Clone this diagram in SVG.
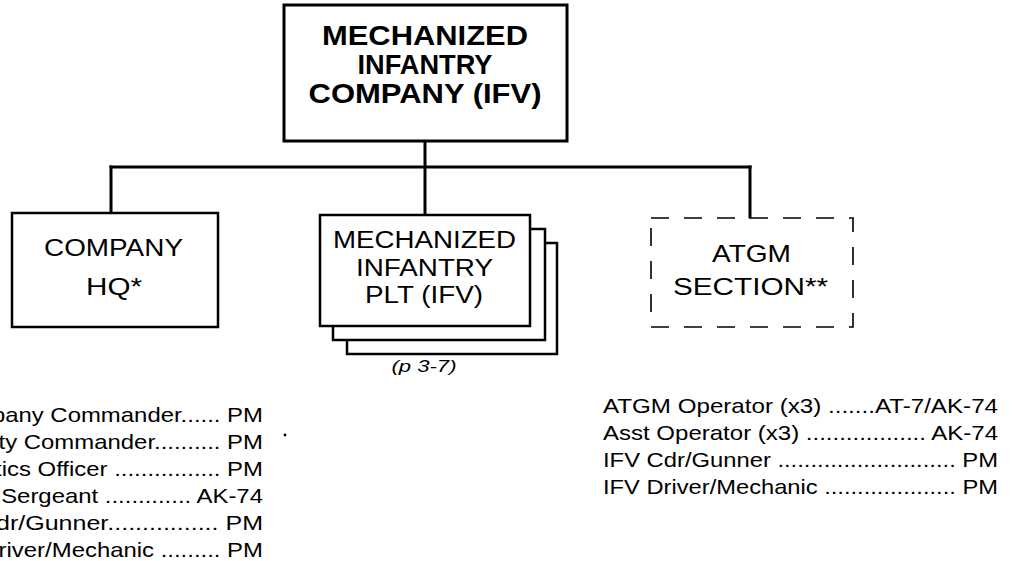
<svg xmlns="http://www.w3.org/2000/svg" width="1012" height="561" viewBox="0 0 1012 561">
  <style>
    .box { fill: #fff; stroke: #000; stroke-width: 2.5; }
    .dash { fill: none; stroke: #000; stroke-width: 1.6; stroke-dasharray: 18 15; }
    .conn { fill: none; stroke: #000; stroke-width: 3; stroke-linecap: square; }
    text { font-family: "Liberation Sans", Arial, sans-serif; fill: #000; }
    .title { font-size: 28px; font-weight: bold; text-anchor: middle; }
    .lbl { font-size: 24px; text-anchor: middle; }
    .lbl2 { font-size: 23px; text-anchor: middle; }
    .list { font-size: 21px; }
  </style>
  <rect width="1012" height="561" fill="#fff"/>

  <g id="connectors">
    <line class="conn" x1="425" y1="141" x2="425" y2="215"/>
    <line class="conn" x1="111" y1="167" x2="750" y2="167"/>
    <line class="conn" x1="111" y1="167" x2="111" y2="213"/>
    <line class="conn" x1="750" y1="167" x2="750" y2="217"/>
  </g>

  <g id="company">
    <rect class="box" x="284" y="5" width="283" height="136" style="stroke-width:3"/>
    <text class="title" x="425" y="45" textLength="206" lengthAdjust="spacingAndGlyphs">MECHANIZED</text>
    <text class="title" x="425" y="74" textLength="135" lengthAdjust="spacingAndGlyphs">INFANTRY</text>
    <text class="title" x="425" y="103" textLength="233" lengthAdjust="spacingAndGlyphs">COMPANY (IFV)</text>
  </g>

  <g id="hq">
    <rect class="box" x="12" y="213" width="206" height="114"/>
    <text class="lbl" x="113.5" y="256" textLength="139" lengthAdjust="spacingAndGlyphs">COMPANY</text>
    <text class="lbl" x="114" y="295" textLength="56" lengthAdjust="spacingAndGlyphs">HQ*</text>
  </g>

  <g id="platoon">
    <rect class="box" x="347" y="243" width="210" height="111"/>
    <rect class="box" x="333" y="229" width="212" height="111"/>
    <rect class="box" x="320" y="215" width="210" height="111"/>
    <text class="lbl2" x="424.5" y="248" textLength="183" lengthAdjust="spacingAndGlyphs">MECHANIZED</text>
    <text class="lbl2" x="424.5" y="276" textLength="137" lengthAdjust="spacingAndGlyphs">INFANTRY</text>
    <text class="lbl2" x="424" y="303" textLength="118" lengthAdjust="spacingAndGlyphs">PLT (IFV)</text>
    <text x="424" y="372" style="font-size:17px;font-style:italic;text-anchor:middle" textLength="65" lengthAdjust="spacingAndGlyphs">(p 3-7)</text>
  </g>

  <g id="atgm">
    <rect class="dash" x="651" y="218" width="202" height="109"/>
    <text class="lbl" x="751.5" y="262" textLength="79" lengthAdjust="spacingAndGlyphs">ATGM</text>
    <text class="lbl" x="750.5" y="295" textLength="155" lengthAdjust="spacingAndGlyphs">SECTION**</text>
  </g>

  <g id="hq-list" transform="scale(1.139,1)" class="list" text-anchor="end">
    <text x="230.9" y="422">pany Commander...... PM</text>
    <text x="230.9" y="449">ty Commander.......... PM</text>
    <text x="230.9" y="476">tics Officer ................ PM</text>
    <text x="230.9" y="503">Sergeant ............. AK-74</text>
    <text x="-3.5" y="530" text-anchor="start" textLength="234.4" lengthAdjust="spacingAndGlyphs">dr/Gunner................ PM</text>
    <text x="230.9" y="557">river/Mechanic ......... PM</text>
  </g>
  <circle cx="285" cy="435" r="1.4" fill="#000"/>

  <g id="atgm-list" class="list">
    <text x="603" y="413" textLength="395" lengthAdjust="spacingAndGlyphs">ATGM Operator (x3) .......AT-7/AK-74</text>
    <text x="603" y="440" textLength="395" lengthAdjust="spacingAndGlyphs">Asst Operator (x3) .................. AK-74</text>
    <text x="603" y="467" textLength="395" lengthAdjust="spacingAndGlyphs">IFV Cdr/Gunner ........................... PM</text>
    <text x="603" y="494" textLength="395" lengthAdjust="spacingAndGlyphs">IFV Driver/Mechanic .................... PM</text>
  </g>
</svg>
